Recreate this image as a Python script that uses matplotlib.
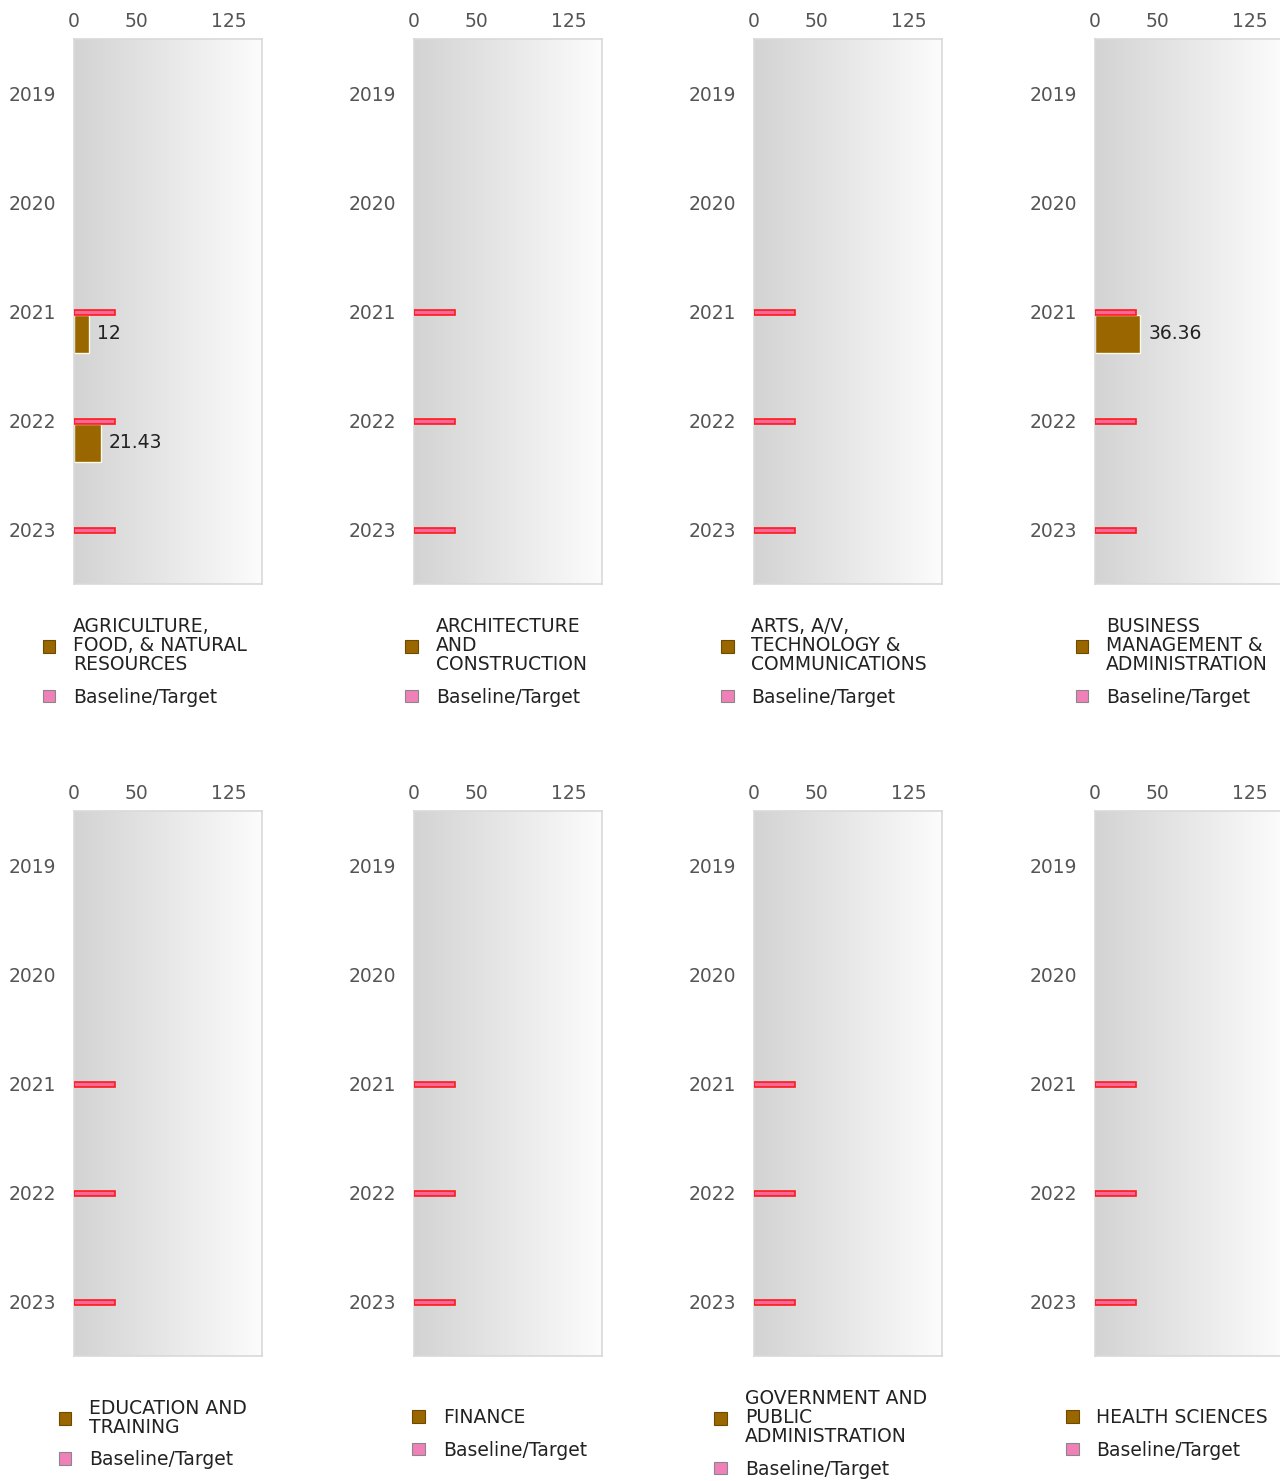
import numpy as np
import matplotlib
matplotlib.use("Agg")
from matplotlib import pyplot as plt
from matplotlib.patches import Patch

plt.rcParams['font.family'] = ['DejaVu Sans']

years = ['2019', '2020', '2021', '2022', '2023']
sectors = ['AGRICULTURE,\nFOOD, & NATURAL\nRESOURCES',
           'ARCHITECTURE\nAND\nCONSTRUCTION',
           'ARTS, A/V,\nTECHNOLOGY &\nCOMMUNICATIONS',
           'BUSINESS\nMANAGEMENT &\nADMINISTRATION',
           'EDUCATION AND\nTRAINING',
           'FINANCE',
           'GOVERNMENT AND\nPUBLIC\nADMINISTRATION',
           'HEALTH SCIENCES']
# actual values per sector and year (None = no data)
values = [[None, None, 12, 21.43, None],
          [None, None, None, None, None],
          [None, None, None, None, None],
          [None, None, 36.36, None, None],
          [None, None, None, None, None],
          [None, None, None, None, None],
          [None, None, None, None, None],
          [None, None, None, None, None]]
# baseline / target per year
target = [None, None, 33, 33, 33]
xticks = [0, 50, 125]

W, H = 1280, 1481
fig = plt.figure(figsize=(W / 100, H / 100), dpi=100)

col_left = [74, 414, 754, 1095]
row_top = [39, 811]
ax_w, ax_h = 188, 545

brown = '#996600'
pink = '#f7679a'
fs = 13.5
grad = np.linspace(0, 1, 256).reshape(1, -1)
cmap = matplotlib.colors.LinearSegmentedColormap.from_list('bg', ['#d3d3d3', '#fcfcfc'])

for k in range(8):
    r, c = divmod(k, 4)
    left = col_left[c] / W
    bottom = 1 - (row_top[r] + ax_h) / H
    ax = fig.add_axes([left, bottom, ax_w / W, ax_h / H])

    ax.imshow(grad, cmap=cmap, aspect='auto', extent=[0, 1, 0, 1],
              transform=ax.transAxes, zorder=0)

    y = np.arange(len(years))
    for i in range(len(years)):
        if target[i] is not None:
            ax.barh(i + 0.01, target[i], height=0.05, color=pink,
                    edgecolor='#ff1a1a', linewidth=1.2, zorder=3)
        v = values[k][i]
        if v is not None:
            ax.barh(i + 0.205, v, height=0.35, color=brown,
                    edgecolor='#fffbe6', linewidth=1.0, zorder=2)
            ax.annotate(f'{v:g}', (v, i + 0.205), xytext=(6, 0),
                        textcoords='offset points', va='center', ha='left',
                        fontsize=fs, color='#222222')

    ax.set_xlim(0, 151.5)
    ax.set_ylim(4.5, -0.5)
    ax.set_yticks(y)
    ax.set_yticklabels(years)
    ax.set_xticks(xticks)
    ax.xaxis.tick_top()
    ax.tick_params(axis='both', length=0, labelsize=fs, labelcolor='#555555')
    ax.tick_params(axis='y', pad=13)
    ax.tick_params(axis='x', pad=6)
    for s in ax.spines.values():
        s.set_color('#d9d9d9')
        s.set_linewidth(1.2)

    handles = [Patch(facecolor=brown, edgecolor='#6e4a00', linewidth=0.8),
               Patch(facecolor='#f080b8', edgecolor='#888888', linewidth=0.8)]
    leg = ax.legend(handles, [sectors[k], 'Baseline/Target'], loc='center right',
                    bbox_to_anchor=(1 - 15 / ax_w, -78 / ax_h), frameon=False,
                    fontsize=fs, handlelength=0.68, handleheight=0.68,
                    handletextpad=0.95, labelspacing=0.7, borderpad=0,
                    borderaxespad=0)
    for t in leg.get_texts():
        t.set_linespacing(1.0)
        t.set_color('#222222')

fig.savefig('out.png', dpi=100)
